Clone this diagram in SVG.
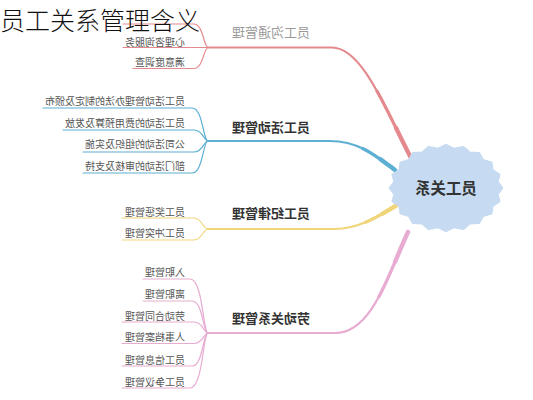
<svg xmlns="http://www.w3.org/2000/svg" width="533" height="400" viewBox="0 0 533 400">
<style>
.ct{font-family:"Noto Sans CJK SC","Noto Sans",sans-serif;font-size:10px;fill:#555}
.bl{font-family:"Noto Sans CJK SC","Noto Sans",sans-serif;font-size:13px;font-weight:bold;fill:#333}
.c{fill:none;stroke-width:1.2;stroke-linecap:round}
.m{fill:none;stroke-width:2.2;stroke-linecap:round}
.t1{fill:none;stroke-width:3.2;stroke-dasharray:55 100;stroke-dashoffset:-45}
.t2{fill:none;stroke-width:4.4;stroke-linecap:round;stroke-dasharray:25 100;stroke-dashoffset:-75}
.red{stroke:#e4898e}.blue{stroke:#5db0d4}.yel{stroke:#f1d57a}.pink{stroke:#e8abd2}
</style>
<rect width="533" height="400" fill="#fff"/>
<g id="connectors">
<path class="m red" d="M208,47.5 H332 C362,47.5 385,108 412,160"/>
<path class="t1 red" pathLength="100" d="M332,47.5 C362,47.5 385,108 412,160"/>
<path class="t2 red" pathLength="100" d="M332,47.5 C362,47.5 385,108 412,160"/>
<path class="m blue" d="M208,141 H330 C358,141 375,155 395,170"/>
<path class="t1 blue" pathLength="100" d="M330,141 C358,141 375,155 395,170"/>
<path class="t2 blue" pathLength="100" d="M330,141 C358,141 375,155 395,170"/>
<path class="m yel" d="M208,229 H335 C360,229 380,215 397,205"/>
<path class="t1 yel" pathLength="100" d="M335,229 C360,229 380,215 397,205"/>
<path class="t2 yel" pathLength="100" d="M335,229 C360,229 380,215 397,205"/>
<path class="m pink" d="M208,333 H335 C372,333 388,275 408,232"/>
<path class="t1 pink" pathLength="100" d="M335,333 C372,333 388,275 408,232"/>
<path class="t2 pink" pathLength="100" d="M335,333 C372,333 388,275 408,232"/>
<g class="c red">
<path d="M123,24 H194 C203,24 204,47.5 208,47.5"/>
<path d="M123,47.5 H208"/>
<path d="M133,68.5 H194 C203,68.5 204,47.5 208,47.5"/>
</g>
<g class="c blue">
<path d="M43,108 H192 C203,108 203,141 208,141"/>
<path d="M63,130 H194 C203,130 204,141 208,141"/>
<path d="M83,152 H194 C203,152 204,141 208,141"/>
<path d="M83,173 H192 C203,173 203,141 208,141"/>
</g>
<g class="c yel">
<path d="M122,218 H194 C202,218 203,229 208,229"/>
<path d="M122,240 H194 C202,240 203,229 208,229"/>
</g>
<g class="c pink">
<path d="M143,279 H190 C203,279 203,333 208,333"/>
<path d="M143,301 H192 C203,301 203,333 208,333"/>
<path d="M122,322 H194 C203,322 204,333 208,333"/>
<path d="M122,343.5 H194 C203,343.5 204,333 208,333"/>
<path d="M122,366 H192 C203,366 203,333 208,333"/>
<path d="M122,388 H190 C203,388 203,333 208,333"/>
</g>
</g>
<g id="center">
<polygon fill="#c6dbf1" stroke="#c6dbf1" stroke-width="2.5" stroke-linejoin="round" points="502,188 497.4,194.2 499.3,201.3 492.3,205.9 491.3,213.3 482.8,215.9 478.9,222.8 469.6,223.2 463.3,228.9 454.1,227 446,231 437.9,227 428.7,228.9 422.4,223.2 413.1,222.8 409.2,215.9 400.7,213.3 399.7,205.9 392.7,201.3 394.6,194.2 390,188 394.6,181.8 392.7,174.7 399.7,170.1 400.7,162.7 409.2,160.1 413.1,153.2 422.4,152.8 428.7,147.1 437.9,149 446,145 454.1,149 463.3,147.1 469.6,152.8 478.9,153.2 482.8,160.1 491.3,162.7 492.3,170.1 499.3,174.7 497.4,181.8"/>
<text x="446" y="194" text-anchor="middle" transform="matrix(-1 0 0 1 892 0)" font-family="Noto Sans CJK SC, sans-serif" font-size="15.5" font-weight="bold" fill="#333">员工关系</text>
</g>
<g id="branches" transform="matrix(-1 0 0 1 620 0)">
<text id="b-comm" class="bl" x="310" y="36.5" style="fill:#9a9a9a;font-weight:normal">员工沟通管理</text>
<text id="b-act" class="bl" x="310" y="131.5">员工活动管理</text>
<text id="b-disc" class="bl" x="310" y="217.5">员工纪律管理</text>
<text id="b-labor" class="bl" x="310" y="322.5">劳动关系管理</text>
</g>
<g id="children" transform="matrix(-1 0 0 1 370 0)">
<text class="ct" x="185" y="45.8">心理咨询服务</text>
<text class="ct" x="185" y="65.6">满意度调查</text>
<text class="ct" x="185" y="104.6">员工活动管理办法的制定及颁布</text>
<text class="ct" x="185" y="126.6">员工活动的费用预算及发放</text>
<text class="ct" x="185" y="147.6">公司活动的组织及实施</text>
<text class="ct" x="185" y="169.6">部门活动的审核及支持</text>
<text class="ct" x="185" y="215.6">员工奖惩管理</text>
<text class="ct" x="185" y="236.6">员工冲突管理</text>
<text class="ct" x="185" y="275.6">入职管理</text>
<text class="ct" x="185" y="297.6">离职管理</text>
<text class="ct" x="185" y="319.6">劳动合同管理</text>
<text class="ct" x="185" y="340.6">人事档案管理</text>
<text class="ct" x="185" y="363.6">员工信息管理</text>
<text class="ct" x="185" y="385.6">员工争议管理</text>
</g>
<text id="title" x="0" y="29.5" font-family="Noto Sans CJK SC, sans-serif" font-size="25" font-weight="300" fill="#111">员工关系管理含义</text>
</svg>
